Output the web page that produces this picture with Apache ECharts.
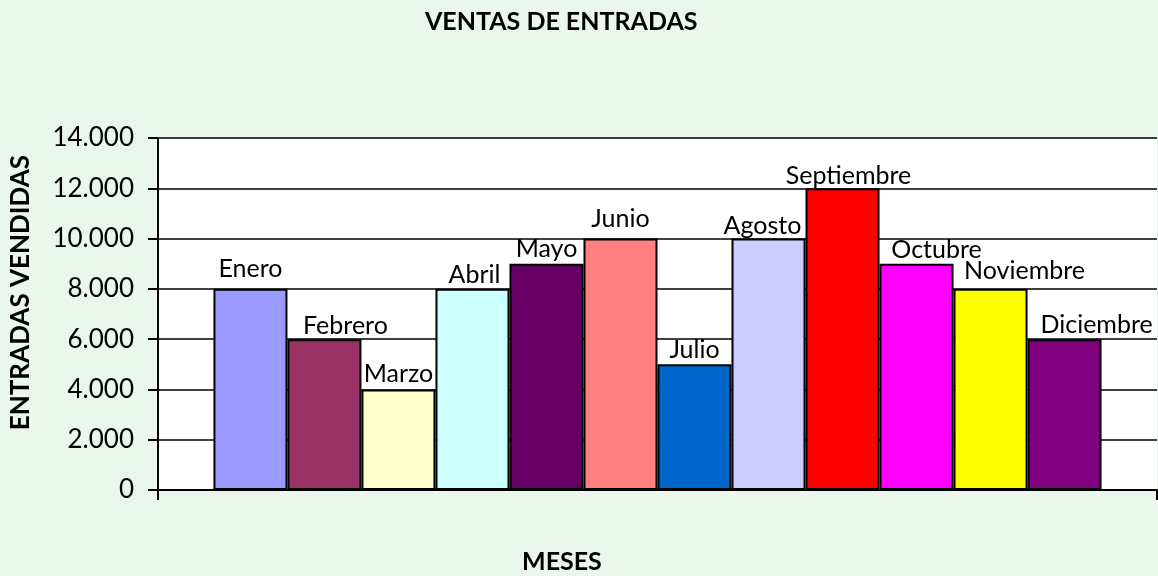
<!DOCTYPE html>
<html>
<head>
<meta charset="utf-8">
<script src="https://cdn.jsdelivr.net/npm/echarts@6/dist/echarts.min.js"></script>
<style>
  html, body { margin: 0; padding: 0; background: #eaf7ec; }
  #chart { width: 1158px; height: 576px; }
</style>
</head>
<body>
<div id="chart"></div>
<script>
const months = ["Enero", "Febrero", "Marzo", "Abril", "Mayo", "Junio", "Julio",
    "Agosto", "Septiembre", "Octubre", "Noviembre", "Diciembre"];
const sales = [8000, 6000, 4000, 8000, 9000, 10000, 5000, 10000, 12000, 9000, 8000, 6000];
const barColors = ["#9999ff", "#993366", "#ffffcc", "#ccffff", "#660066", "#ff8080",
    "#0066cc", "#ccccff", "#ff0000", "#ff00ff", "#ffff00", "#800080"];
const yTicks = [0, 2000, 4000, 6000, 8000, 10000, 12000, 14000];

// the original nudged some labels sideways to keep them from overlapping
const labelNudge = [[0, -6], [21, 0], [0, -2], [2, 0], [0, -1], [0, -6],
    [0, -1], [-6, 1], [6, 1], [20, 0], [34, -4], [32, -1]];

const FONT = "Lato, 'Open Sans', sans-serif";

const fmtThousands = (v) => String(v).replace(/\B(?=(\d{3})+(?!\d))/g, ".");

const chart = echarts.init(document.getElementById("chart"));

const series = months.map((name, i) => ({
    name: name,
    type: "bar",
    data: [sales[i]],
    barGap: "0%",
    barCategoryGap: "11.1%",
    itemStyle: { color: barColors[i], borderColor: "#000", borderWidth: 2 },
    label: {
        show: true,
        position: "top",
        distance: 1,
        offset: labelNudge[i],
        formatter: () => name,
        color: "#000",
        fontFamily: FONT,
        fontSize: 25
    }
}));

chart.setOption({
    backgroundColor: "#eaf7ec",
    animation: false,
    title: {
        text: "VENTAS DE ENTRADAS",
        left: 420,
        top: 4,
        textStyle: { fontFamily: FONT, fontSize: 25, fontWeight: "bold", color: "#000" }
    },
    grid: {
        left: 158,
        right: 1,
        top: 138,
        bottom: 86,
        outerBoundsMode: "none",
        show: true,
        backgroundColor: "#fff",
        borderWidth: 0
    },
    xAxis: {
        type: "category",
        data: [""],
        axisLine: { lineStyle: { color: "#000", width: 2 } },
        axisTick: { show: true, length: 10, lineStyle: { color: "#000", width: 2 } },
        axisLabel: { show: false }
    },
    yAxis: {
        type: "value",
        min: yTicks[0],
        max: yTicks[yTicks.length - 1],
        interval: yTicks[1] - yTicks[0],
        axisLine: { show: true, lineStyle: { color: "#000", width: 2 } },
        axisTick: { show: true, length: 10, lineStyle: { color: "#000", width: 2 } },
        axisLabel: {
            formatter: fmtThousands,
            color: "#000",
            fontFamily: FONT,
            fontSize: 26,
            margin: 24
        },
        splitLine: { lineStyle: { color: "#000", width: 1.5 } }
    },
    graphic: [{
        type: "text",
        left: 8,
        top: 155,
        rotation: Math.PI / 2,
        style: {
            text: "ENTRADAS VENDIDAS",
            fontFamily: FONT,
            fontSize: 26,
            fontWeight: "bold",
            fill: "#000"
        }
    }, {
        type: "text",
        left: 522,
        top: 549,
        style: {
            text: "MESES",
            fontFamily: FONT,
            fontSize: 25,
            fontWeight: "bold",
            fill: "#000"
        }
    }],
    series: series
});
</script>
</body>
</html>
